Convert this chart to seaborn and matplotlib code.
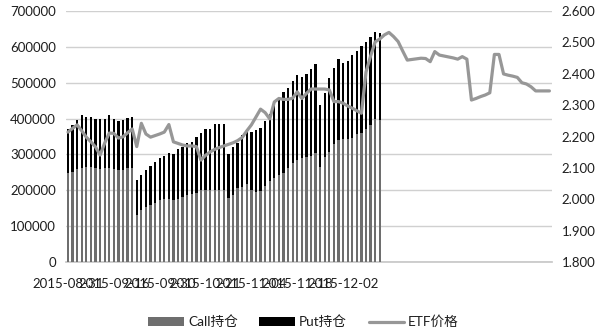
import numpy as np
import pandas as pd
import seaborn as sns
import matplotlib
matplotlib.use("Agg")
import matplotlib.pyplot as plt
from matplotlib.patches import Patch
from matplotlib.lines import Line2D

# ---- data ----
# open interest, total (call + put), in units
total_oi = [370000, 383000, 397000, 409000, 403000, 403000, 400000, 398000, 398000, 409000,
            400000, 393000, 395000, 402000, 403000, 229000, 243000, 256000, 267000, 280000,
            289000, 295000, 303000, 301000, 314000, 321000, 332000, 335000, 349000, 361000,
            370000, 372000, 384000, 384000, 384000, 301000, 321000, 332000, 354000, 367000,
            363000, 367000, 375000, 393000, 414000, 442000, 458000, 474000, 486000, 504000,
            520000, 516000, 523000, 537000, 551000, 437000, 472000, 514000, 542000, 565000,
            555000, 560000, 576000, 587000, 601000, 613000, 627000, 641000, 638000]
call_oi = [249000, 252000, 259000, 263000, 266000, 266000, 261000, 259000, 261000, 261000,
           259000, 256000, 256000, 261000, 261000, 133000, 146000, 154000, 160000, 166000,
           172000, 177000, 177000, 172000, 177000, 181000, 187000, 189000, 193000, 200000,
           200000, 200000, 201000, 201000, 201000, 180000, 187000, 206000, 210000, 217000,
           201000, 196000, 198000, 212000, 226000, 235000, 244000, 249000, 261000, 275000,
           286000, 291000, 293000, 296000, 305000, 266000, 292000, 307000, 328000, 340000,
           342000, 344000, 347000, 356000, 361000, 372000, 381000, 398000, 395000]
etf_price = [2.214, 2.226, 2.237, 2.218, 2.198, 2.183, 2.167, 2.141, 2.179, 2.211,
             2.210, 2.195, 2.199, 2.212, 2.224, 2.168, 2.242, 2.208, 2.198, 2.203,
             2.208, 2.214, 2.238, 2.183, 2.178, 2.173, 2.170, 2.170, 2.168, 2.125,
             2.140, 2.151, 2.159, 2.165, 2.170, 2.175, 2.180, 2.187, 2.197, 2.218,
             2.237, 2.262, 2.287, 2.276, 2.256, 2.310, 2.321, 2.318, 2.318, 2.322,
             2.342, 2.321, 2.337, 2.351, 2.351, 2.351, 2.351, 2.348, 2.311, 2.311,
             2.306, 2.297, 2.290, 2.282, 2.274, 2.405, 2.456, 2.501, 2.510, 2.523,
             2.531, 2.518, 2.502, 2.472, 2.443, 2.445, 2.447, 2.449, 2.448, 2.438,
             2.470, 2.459, 2.456, 2.453, 2.450, 2.446, 2.454, 2.446, 2.316, 2.321,
             2.327, 2.332, 2.339, 2.461, 2.461, 2.399, 2.395, 2.392, 2.388, 2.371,
             2.367, 2.358, 2.345, 2.345, 2.345, 2.345]
tick_labels = ["2015-08-31", "2015-09-16", "2015-09-30", "2015-10-21",
               "2015-11-04", "2015-11-18", "2015-12-02"]
tick_step = 10
legend_labels = ["Call持仓", "Put持仓", "ETF价格"]

# ---- build tables ----
bars = pd.DataFrame({"idx": np.arange(len(total_oi)), "total": total_oi, "call": call_oi})
line = pd.DataFrame({"idx": np.arange(len(etf_price)), "price": etf_price})

sns.set_theme(style="white")
plt.rcParams["font.family"] = ["Lato", "Noto Sans CJK SC", "DejaVu Sans"]
text_color = "#1e1e1e"

fig = plt.figure(figsize=(6.0, 3.35), dpi=100)
ax = fig.add_axes([0.1095, 0.217, 0.81, 0.751])

call_color = "#6e6e6e"
put_color = "#000000"
line_color = "#979797"

sns.barplot(data=bars, x="idx", y="total", native_scale=True, color=put_color,
            width=0.5, errorbar=None, saturation=1, ax=ax, zorder=2,
            edgecolor="none", linewidth=0)
sns.barplot(data=bars, x="idx", y="call", native_scale=True, color=call_color,
            width=0.5, errorbar=None, saturation=1, ax=ax, zorder=3,
            edgecolor="none", linewidth=0)

ax.set_xlim(-0.5, len(etf_price) - 0.5)
ax.set_ylim(0, 700000)
ax.set_yticks(np.arange(0, 700001, 100000))
ax.set_yticklabels([f"{v:d}" for v in range(0, 700001, 100000)])
ax.yaxis.grid(True, color="#d0d0d0", linewidth=1.0, zorder=0)
ax.set_axisbelow(True)
ax.set_xticks(np.arange(0, tick_step * len(tick_labels), tick_step))
ax.set_xticklabels(tick_labels)
ax.set_xlabel("")
ax.set_ylabel("")
for s in ["top", "right", "left"]:
    ax.spines[s].set_visible(False)
ax.spines["bottom"].set_color("#c8c8c8")
ax.tick_params(axis="y", length=0, pad=7, labelsize=9.5, labelcolor=text_color)
ax.tick_params(axis="x", length=0, pad=11, labelsize=9.5, labelcolor=text_color)

ax2 = ax.twinx()
sns.lineplot(data=line, x="idx", y="price", color=line_color, linewidth=2.3, ax=ax2)
ax2.set_ylim(1.8, 2.6)
ax2.set_yticks(np.round(np.arange(1.8, 2.6001, 0.1), 1))
ax2.set_yticklabels([f"{v:.3f}" for v in np.arange(1.8, 2.6001, 0.1)])
ax2.set_xlim(-0.5, len(etf_price) - 0.5)
ax2.set_ylabel("")
ax2.set_xlabel("")
for s in ["top", "right", "left", "bottom"]:
    ax2.spines[s].set_visible(False)
ax2.tick_params(axis="y", length=0, pad=7, labelsize=9.5, labelcolor=text_color)
ax2.grid(False)

handles = [Patch(facecolor=call_color, edgecolor="none"),
           Patch(facecolor=put_color, edgecolor="none"),
           Line2D([0], [0], color=line_color, linewidth=2.3)]
leg = fig.legend(handles, legend_labels, loc="center", bbox_to_anchor=(0.506, 0.039),
                 ncol=3, frameon=False, fontsize=9.8, handlelength=2.6, handleheight=0.55,
                 columnspacing=1.6, handletextpad=0.3)
for t in leg.get_texts():
    t.set_color(text_color)

fig.savefig("out.png", dpi=100)
